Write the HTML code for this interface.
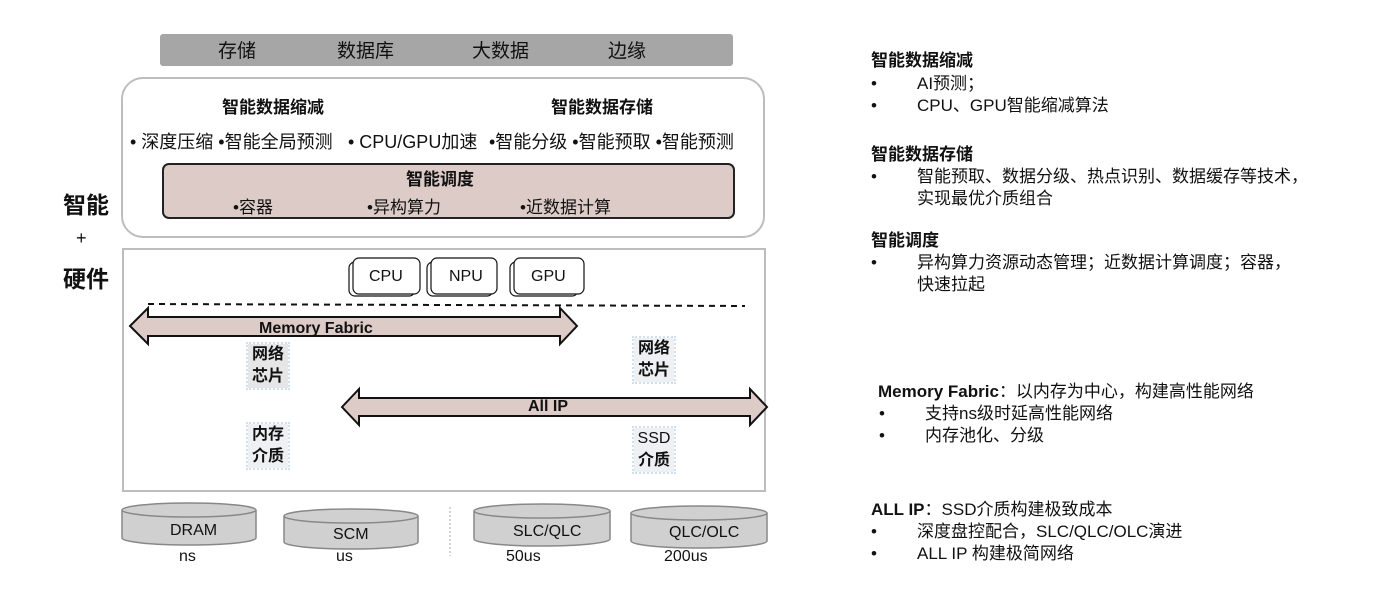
<!DOCTYPE html>
<html><head><meta charset="utf-8"><style>
body{margin:0;width:1394px;height:613px;background:#fff;position:relative;overflow:hidden;font-family:"Liberation Sans","Noto Sans CJK SC",sans-serif;color:#111}
.a{position:absolute;white-space:nowrap;line-height:22px}
.b{font-weight:bold}
.r{font-size:17px}
.chip{position:absolute;width:40px;background:#e6e6e6;outline:2px dotted #cfe0f0;font-weight:bold;font-size:16px;line-height:22px;text-align:center}
</style></head><body>
<div style="position:absolute;left:160px;top:34px;width:573px;height:32px;background:#a6a6a6;border-radius:3px"></div>
<div class="a" style="left:218px;top:41px;font-size:19px">存储</div>
<div class="a" style="left:337px;top:41px;font-size:19px">数据库</div>
<div class="a" style="left:472px;top:41px;font-size:19px">大数据</div>
<div class="a" style="left:608px;top:41px;font-size:19px">边缘</div>

<div style="position:absolute;left:121px;top:77px;width:640px;height:157px;border:2px solid #bdbdbd;border-radius:22px"></div>
<div class="a b" style="left:222px;top:97px;font-size:17px">智能数据缩减</div>
<div class="a b" style="left:551px;top:97px;font-size:17px">智能数据存储</div>
<div class="a" style="left:130px;top:131px;font-size:18px">• 深度压缩 •智能全局预测</div>
<div class="a" style="left:348px;top:131px;font-size:18px">• CPU/GPU加速</div>
<div class="a" style="left:489px;top:131px;font-size:18px">•智能分级 •智能预取 •智能预测</div>
<div style="position:absolute;left:162px;top:163px;width:569px;height:52px;border:2px solid #222;border-radius:7px;background:#dccbc6"></div>
<div class="a b" style="left:406px;top:169px;font-size:17px">智能调度</div>
<div class="a" style="left:233px;top:197px;font-size:17px">•容器</div>
<div class="a" style="left:367px;top:197px;font-size:17px">•异构算力</div>
<div class="a" style="left:520px;top:197px;font-size:17px">•近数据计算</div>

<div class="a b" style="left:63px;top:191px;font-size:23px;line-height:28px">智能</div>
<div class="a" style="left:76px;top:227px;font-size:18px">+</div>
<div class="a b" style="left:63px;top:265px;font-size:23px;line-height:28px">硬件</div>

<div style="position:absolute;left:122px;top:248px;width:640px;height:240px;border:2px solid #bdbdbd"></div>
<svg style="position:absolute;left:0;top:0" width="1394" height="613">
<g fill="#fff" stroke="#111" stroke-width="1.2">
<rect x="349" y="262" width="66" height="34" rx="6"/><rect x="353" y="258" width="67" height="36" rx="6"/>
<rect x="427" y="262" width="66" height="34" rx="6"/><rect x="431" y="258" width="66" height="36" rx="6"/>
<rect x="510" y="262" width="68" height="34" rx="6"/><rect x="514" y="258" width="70" height="36" rx="6"/>
</g>
<line x1="148" y1="304" x2="745" y2="306" stroke="#111" stroke-width="2" stroke-dasharray="6,5"/>
<polygon points="130,326 148,308 148,317 560,317 560,308 577,326 560,344 560,336 148,336 148,344" fill="#dccbc6" stroke="#111" stroke-width="2"/>
<polygon points="342,407 359,389 359,398 750,398 750,389 767,407 750,425 750,416 359,416 359,425" fill="#dccbc6" stroke="#111" stroke-width="2"/>
<g fill="#d0d0d0" stroke="#888" stroke-width="1.5">
<path d="M122,510 v28 a67,7 0 0 0 134,0 v-28"/><ellipse cx="189" cy="510" rx="67" ry="7"/>
<path d="M284,516 v26 a67,7 0 0 0 134,0 v-26"/><ellipse cx="351" cy="516" rx="67" ry="7"/>
<path d="M474,511 v28 a68,7 0 0 0 136,0 v-28"/><ellipse cx="542" cy="511" rx="68" ry="7"/>
<path d="M631,513 v28 a68,7 0 0 0 136,0 v-28"/><ellipse cx="699" cy="513" rx="68" ry="7"/>
</g>
<line x1="450" y1="507" x2="450" y2="556" stroke="#aaa" stroke-dasharray="2,2"/>
</svg>
<div class="a" style="left:369px;top:266px;font-size:16px">CPU</div>
<div class="a" style="left:449px;top:266px;font-size:16px">NPU</div>
<div class="a" style="left:531px;top:266px;font-size:16px">GPU</div>
<div class="a b" style="left:259px;top:318px;font-size:16px">Memory Fabric</div>
<div class="a b" style="left:528px;top:396px;font-size:16px">All IP</div>
<div class="chip" style="left:248px;top:344px">网络<br>芯片</div>
<div class="chip" style="left:634px;top:338px;background:#eef0f3">网络<br>芯片</div>
<div class="chip" style="left:248px;top:424px;background:#eef0f3">内存<br>介质</div>
<div class="chip" style="left:634px;top:428px;background:#eef0f3"><span style="font-weight:normal">SSD</span><br>介质</div>
<div class="a" style="left:170px;top:520px;font-size:16px">DRAM</div>
<div class="a" style="left:333px;top:524px;font-size:16px">SCM</div>
<div class="a" style="left:513px;top:521px;font-size:16px">SLC/QLC</div>
<div class="a" style="left:669px;top:522px;font-size:16px">QLC/OLC</div>
<div class="a" style="left:179px;top:546px;font-size:16px">ns</div>
<div class="a" style="left:336px;top:546px;font-size:16px">us</div>
<div class="a" style="left:506px;top:546px;font-size:16px">50us</div>
<div class="a" style="left:664px;top:546px;font-size:16px">200us</div>

<div class="a r b" style="left:871px;top:50px">智能数据缩减</div>
<div class="a r" style="left:871px;top:73px">•</div><div class="a r" style="left:917px;top:73px">AI预测；</div>
<div class="a r" style="left:871px;top:95px">•</div><div class="a r" style="left:917px;top:95px">CPU、GPU智能缩减算法</div>
<div class="a r b" style="left:871px;top:144px">智能数据存储</div>
<div class="a r" style="left:871px;top:166px">•</div><div class="a r" style="left:917px;top:166px">智能预取、数据分级、热点识别、数据缓存等技术，<br>实现最优介质组合</div>
<div class="a r b" style="left:871px;top:230px">智能调度</div>
<div class="a r" style="left:871px;top:252px">•</div><div class="a r" style="left:917px;top:252px">异构算力资源动态管理；近数据计算调度；容器，<br>快速拉起</div>
<div class="a r" style="left:878px;top:381px"><b>Memory Fabric</b>：以内存为中心，构建高性能网络</div>
<div class="a r" style="left:879px;top:403px">•</div><div class="a r" style="left:925px;top:403px">支持ns级时延高性能网络</div>
<div class="a r" style="left:879px;top:425px">•</div><div class="a r" style="left:925px;top:425px">内存池化、分级</div>
<div class="a r" style="left:871px;top:499px"><b>ALL IP</b>：SSD介质构建极致成本</div>
<div class="a r" style="left:871px;top:521px">•</div><div class="a r" style="left:917px;top:521px">深度盘控配合，SLC/QLC/OLC演进</div>
<div class="a r" style="left:871px;top:543px">•</div><div class="a r" style="left:917px;top:543px">ALL IP 构建极简网络</div>
</body></html>
